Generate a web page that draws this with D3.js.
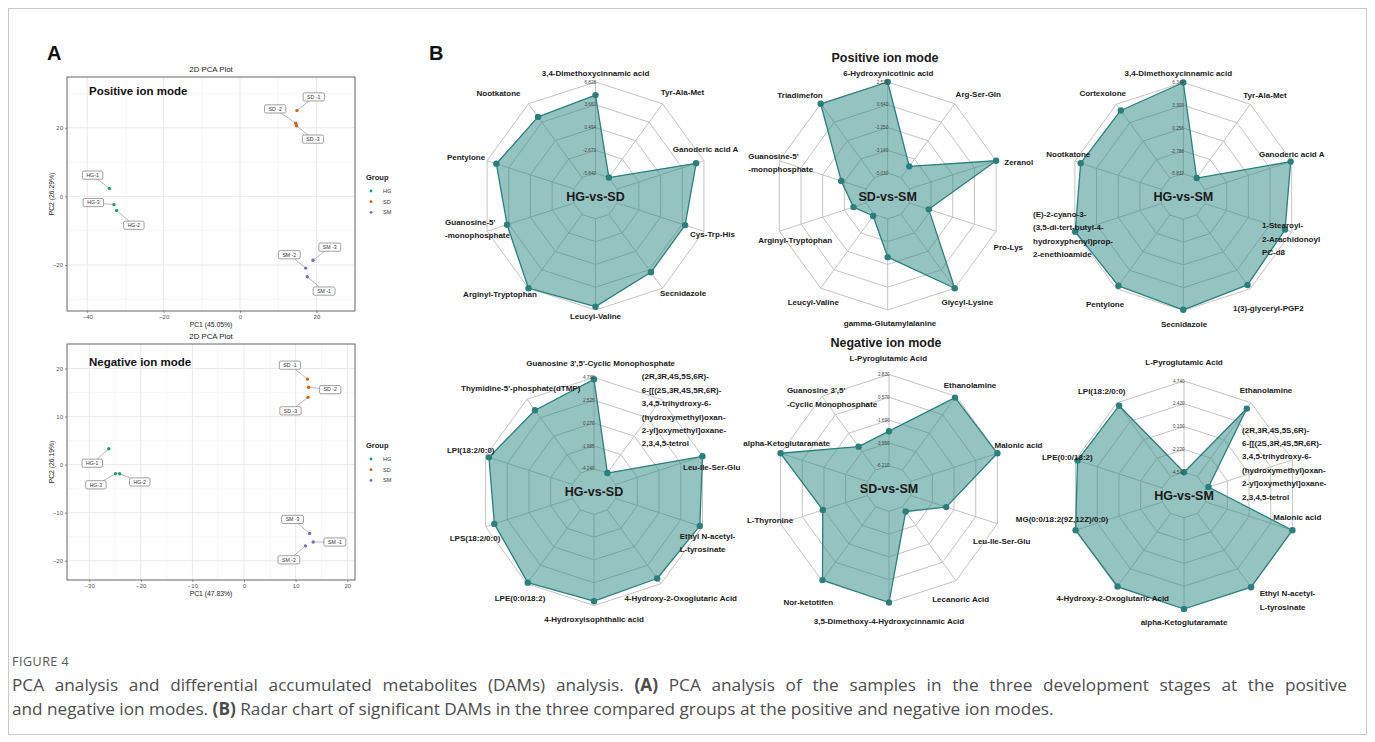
<!DOCTYPE html>
<html>
<head>
<meta charset="utf-8">
<script src="https://cdn.jsdelivr.net/npm/d3@7"></script>
<style>
  body { margin: 0; background: #fff; }
  svg { display: block; }
</style>
</head>
<body>
<svg id="fig" width="1375" height="742"></svg>
<script>
// ---------------- PCA scores ----------------
const sampleNames  = ["HG-1", "HG-2", "HG-3", "SD -1", "SD -2", "SD -3", "SM -1", "SM -2", "SM -3"];
const sampleGroups = ["HG", "HG", "HG", "SD", "SD", "SD", "SM", "SM", "SM"];
const groupNames   = ["HG", "SD", "SM"];
const groupColors  = ["#1b9e77", "#d95f02", "#7570b3"];

const posPC1 = [-34.2, -32.3, -33.0, 14.9, 14.6, 14.8, 17.6, 17.2, 19.1];
const posPC2 = [2.3, -4.1, -2.4, 25.0, 21.3, 20.6, -23.4, -20.9, -18.6];
const negPC1 = [-26.2, -24.1, -24.9, 12.3, 12.5, 12.4, 13.4, 11.9, 12.7];
const negPC2 = [3.3, -1.9, -1.9, 17.8, 16.1, 14.0, -16.1, -16.9, -14.3];

// repelled label anchors (data units)
const posLabelPC1 = [-38.6, -27.8, -38.4, 19.3, 9.2, 19.1, 22.0, 12.9, 23.5];
const posLabelPC2 = [6.2, -8.4, -1.8, 29.0, 25.5, 16.7, -27.6, -17.0, -14.8];
const negLabelPC1 = [-29.4, -20.2, -28.7, 8.9, 16.7, 9.0, 17.6, 8.7, 9.4];
const negLabelPC2 = [0.3, -3.6, -4.2, 20.7, 15.6, 11.2, -16.1, -19.8, -11.4];

// ---------------- Radar charts: metabolites, values, axis ticks ----------------
const posHGvsSDNames = ["3,4-Dimethoxycinnamic acid", "Tyr-Ala-Met", "Ganoderic acid A", "Cys-Trp-His", "Secnidazole",
  "Leucyl-Valine", "Arginyl-Tryptophan", "Guanosine-5'\n-monophosphate", "Pentylone", "Nootkatone"];
const posHGvsSDValues = [5.01, -5.84, 5.69, 4.08, 4.09, 6.36, 6.828, 3.91, 5.47, 4.57];
const posHGvsSDTicks = ["6.828", "3.661", "0.494", "-2.673", "-5.840"];

const posSDvsSMNames = ["6-Hydroxynicotinic acid", "Arg-Ser-Gln", "Zeranol", "Pro-Lys", "Glycyl-Lysine",
  "gamma-Glutamylalanine", "Leucyl-Valine", "Arginyl-Tryptophan", "Guanosine-5'\n-monophosphate", "Triadimefon"];
const posSDvsSMValues = [2.53, -3.88, 2.53, -3.34, 2.53, -1.85, -4.87, -3.94, -2.87, 2.53];
const posSDvsSMTicks = ["2.530", "0.640", "-1.250", "-3.140", "-5.030"];

const posHGvsSMNames = ["3,4-Dimethoxycinnamic acid", "Tyr-Ala-Met", "Ganoderic acid A",
  "1-Stearoyl-\n2-Arachidonoyl\nPC-d8", "1(3)-glyceryl-PGF2", "Secnidazole", "Pentylone",
  "(E)-2-cyano-3-\n(3,5-di-tert-butyl-4-\nhydroxyphenyl)prop-\n2-enethioamide", "Nootkatone", "Cortexolone"];
const posHGvsSMValues = [6.344, -5.832, 6.2, 5.41, 5.72, 6.25, 5.86, 6.3, 5.53, 5.32];
const posHGvsSMTicks = ["6.344", "3.300", "0.256", "-2.788", "-5.832"];

const negHGvsSDNames = ["Guanosine 3',5'-Cyclic Monophosphate",
  "(2R,3R,4S,5S,6R)-\n6-[[(2S,3R,4S,5R,6R)-\n3,4,5-trihydroxy-6-\n(hydroxymethyl)oxan-\n2-yl]oxymethyl]oxane-\n2,3,4,5-tetrol",
  "Leu-Ile-Ser-Glu", "Ethyl N-acetyl-\nL-tyrosinate", "4-Hydroxy-2-Oxoglutaric Acid", "4-Hydroxyisophthalic acid",
  "LPE(0:0/18:2)", "LPS(18:2/0:0)", "LPI(18:2/0:0)", "Thymidine-5'-phosphate(dTMP)"];
const negHGvsSDValues = [4.6, -4.24, 4.78, 4.51, 4.14, 4.35, 4.65, 3.87, 4.43, 3.44];
const negHGvsSDTicks = ["4.780", "2.525", "0.270", "-1.985", "-4.240"];

const negSDvsSMNames = ["L-Pyroglutamic Acid", "Ethanolamine", "Malonic acid", "Leu-Ile-Ser-Glu", "Lecanoric Acid",
  "3,5-Dimethoxy-4-Hydroxycinnamic Acid", "Nor-ketotifen", "L-Thyronine", "alpha-Ketoglutaramate",
  "Guanosine 3',5'\n-Cyclic Monophosphate"];
const negSDvsSMValues = [-2.79, 2.67, 2.83, -2.51, -5.65, 2.83, 2.75, -1.57, 2.83, -3.34];
const negSDvsSMTicks = ["2.830", "0.570", "-1.690", "-3.950", "-6.210"];

const negHGvsSMNames = ["L-Pyroglutamic Acid", "Ethanolamine",
  "(2R,3R,4S,5S,6R)-\n6-[[(2S,3R,4S,5R,6R)-\n3,4,5-trihydroxy-6-\n(hydroxymethyl)oxan-\n2-yl]oxymethyl]oxane-\n2,3,4,5-tetrol",
  "Malonic acid", "Ethyl N-acetyl-\nL-tyrosinate", "alpha-Ketoglutaramate", "4-Hydroxy-2-Oxoglutaric Acid",
  "MG(0:0/18:2(9Z,12Z)/0:0)", "LPE(0:0/18:2)", "LPI(18:2/0:0)"];
const negHGvsSMValues = [-4.54, 4.01, -4.24, 4.74, 4.74, 4.74, 4.65, 4.74, 4.53, 4.37];
const negHGvsSMTicks = ["4.740", "2.420", "0.100", "-2.220", "-4.540"];

// ---------------- layout ----------------
const FONT = "'Liberation Sans', Arial, Helvetica, sans-serif";
const svg = d3.select("#fig");
svg.append("rect").attr("width", 1375).attr("height", 742).attr("fill", "#fff");
svg.append("rect").attr("x", 8.5).attr("y", 8.5).attr("width", 1358).attr("height", 726)
  .attr("fill", "none").attr("stroke", "#c9c9c9").attr("stroke-width", 1);

svg.append("text").attr("x", 47).attr("y", 60).text("A")
  .attr("font-family", FONT).attr("font-weight", "bold").attr("font-size", 20).attr("fill", "#111");
svg.append("text").attr("x", 429).attr("y", 60).text("B")
  .attr("font-family", FONT).attr("font-weight", "bold").attr("font-size", 20).attr("fill", "#111");

// ---------------- PCA panel ----------------
function drawPCA(cfg) {
  const g = svg.append("g");
  const x = d3.scaleLinear().domain(cfg.xDomain).range([cfg.left, cfg.right]);
  const y = d3.scaleLinear().domain(cfg.yDomain).range([cfg.bottom, cfg.top]);
  const W = cfg.right - cfg.left, H = cfg.bottom - cfg.top;

  // minor grid
  cfg.xMinor.forEach(v => g.append("line").attr("x1", x(v)).attr("x2", x(v)).attr("y1", cfg.top).attr("y2", cfg.bottom)
    .attr("stroke", "#f3f3f3").attr("stroke-width", 0.6));
  cfg.yMinor.forEach(v => g.append("line").attr("y1", y(v)).attr("y2", y(v)).attr("x1", cfg.left).attr("x2", cfg.right)
    .attr("stroke", "#f3f3f3").attr("stroke-width", 0.6));
  // major grid
  cfg.xTicks.forEach(v => g.append("line").attr("x1", x(v)).attr("x2", x(v)).attr("y1", cfg.top).attr("y2", cfg.bottom)
    .attr("stroke", "#e8e8e8").attr("stroke-width", 0.9));
  cfg.yTicks.forEach(v => g.append("line").attr("y1", y(v)).attr("y2", y(v)).attr("x1", cfg.left).attr("x2", cfg.right)
    .attr("stroke", "#e8e8e8").attr("stroke-width", 0.9));

  // axes
  const xAxis = g.append("g").attr("transform", `translate(0,${cfg.bottom})`)
    .call(d3.axisBottom(x).tickValues(cfg.xTicks).tickSize(2).tickPadding(2));
  const yAxis = g.append("g").attr("transform", `translate(${cfg.left},0)`)
    .call(d3.axisLeft(y).tickValues(cfg.yTicks).tickSize(2).tickPadding(2));
  [xAxis, yAxis].forEach(a => {
    a.select(".domain").remove();
    a.selectAll("line").attr("stroke", "#555").attr("stroke-width", 0.6);
    a.selectAll("text").attr("font-family", FONT).attr("font-size", 6).attr("fill", "#555");
  });

  g.append("rect").attr("x", cfg.left).attr("y", cfg.top).attr("width", W).attr("height", H)
    .attr("fill", "none").attr("stroke", "#555").attr("stroke-width", 0.9);

  // titles
  g.append("text").attr("x", (cfg.left + cfg.right) / 2).attr("y", cfg.top - 5).attr("text-anchor", "middle")
    .attr("font-family", FONT).attr("font-size", 7.8).attr("fill", "#222").text("2D PCA Plot");
  g.append("text").attr("x", (cfg.left + cfg.right) / 2).attr("y", cfg.bottom + 16).attr("text-anchor", "middle")
    .attr("font-family", FONT).attr("font-size", 6.8).attr("fill", "#222").text(cfg.xTitle);
  g.append("text").attr("transform", `translate(${cfg.left - 13},${(cfg.top + cfg.bottom) / 2}) rotate(-90)`)
    .attr("text-anchor", "middle").attr("font-family", FONT).attr("font-size", 6.8).attr("fill", "#222").text(cfg.yTitle);
  g.append("text").attr("x", cfg.left + 22).attr("y", cfg.top + cfg.modeDy).attr("font-family", FONT)
    .attr("font-weight", "bold").attr("font-size", 11.5).attr("fill", "#111").text(cfg.mode);

  // label boxes with leader segments
  const color = d3.scaleOrdinal().domain(groupNames).range(groupColors);
  const lab = g.append("g");
  sampleNames.forEach((name, i) => {
    const px = x(cfg.pc1[i]), py = y(cfg.pc2[i]);
    const lx = x(cfg.labX[i]), ly = y(cfg.labY[i]);
    const item = lab.append("g");
    const seg = item.append("line");
    const box = item.append("rect");
    const t = item.append("text").attr("x", lx).attr("y", ly + 1.8).attr("text-anchor", "middle")
      .attr("font-family", FONT).attr("font-size", 5.2).attr("fill", "#333").text(name);
    const tw = t.node().getComputedTextLength();
    const bw = tw + 8, bh = 8.2;
    // segment from the point to the box edge
    const dx = px - lx, dy = py - ly;
    const s = Math.min(Math.abs((bw / 2) / (dx || 1e-9)), Math.abs((bh / 2) / (dy || 1e-9)));
    if (s < 1) {
      seg.attr("x1", px).attr("y1", py).attr("x2", lx + dx * s).attr("y2", ly + dy * s)
        .attr("stroke", "#888").attr("stroke-width", 0.6);
    } else {
      seg.remove();
    }
    box.attr("x", lx - bw / 2).attr("y", ly - bh / 2).attr("width", bw).attr("height", bh)
      .attr("rx", 1.5).attr("fill", "#fff").attr("stroke", "#777").attr("stroke-width", 0.7);
  });
  sampleNames.forEach((name, i) => {
    g.append("circle").attr("cx", x(cfg.pc1[i])).attr("cy", y(cfg.pc2[i])).attr("r", 1.7)
      .attr("fill", color(sampleGroups[i]));
  });

  // legend
  const lg = g.append("g").attr("transform", `translate(${cfg.right + 11},${cfg.legendY})`);
  lg.append("text").attr("x", 0).attr("y", 0).attr("font-family", FONT).attr("font-weight", "bold")
    .attr("font-size", 7.5).attr("fill", "#222").text("Group");
  groupNames.forEach((gname, k) => {
    lg.append("circle").attr("cx", 5).attr("cy", 11 + k * 10.7).attr("r", 1.4).attr("fill", groupColors[k]);
    lg.append("text").attr("x", 17).attr("y", 13 + k * 10.7).attr("font-family", FONT).attr("font-size", 5.6)
      .attr("fill", "#333").text(gname);
  });
}

drawPCA({
  left: 67, right: 355, top: 77, bottom: 311,
  xDomain: [-45.3, 30.1], yDomain: [-33.4, 34.8],
  xTicks: [-40, -20, 0, 20], yTicks: [-20, 0, 20],
  xMinor: [-30, -10, 10, 30], yMinor: [-30, -10, 10, 30],
  pc1: posPC1, pc2: posPC2, labX: posLabelPC1, labY: posLabelPC2,
  xTitle: "PC1 (45.05%)", yTitle: "PC2 (26.29%)", mode: "Positive ion mode", modeDy: 18,
  legendY: 180
});
drawPCA({
  left: 67, right: 355, top: 344, bottom: 580,
  xDomain: [-34.3, 21.5], yDomain: [-24.0, 25.1],
  xTicks: [-30, -20, -10, 0, 10, 20], yTicks: [-20, -10, 0, 10, 20],
  xMinor: [-25, -15, -5, 5, 15], yMinor: [-15, -5, 5, 15],
  pc1: negPC1, pc2: negPC2, labX: negLabelPC1, labY: negLabelPC2,
  xTitle: "PC1 (47.83%)", yTitle: "PC2 (26.19%)", mode: "Negative ion mode", modeDy: 22,
  legendY: 448
});

// ---------------- Radar panel ----------------
function drawRadar(cfg) {
  const g = svg.append("g").attr("transform", `translate(${cfg.cx},${cfg.cy})`);
  const n = cfg.names.length;
  const vmax = +cfg.ticks[0], vmin = +cfg.ticks[cfg.ticks.length - 1];
  const seg = cfg.ticks.length - 1;
  // inner hole of one segment below the minimum
  const r = d3.scaleLinear().domain([vmin - (vmax - vmin) / seg, vmax]).range([0, cfg.R]);
  const ang = d3.scaleLinear().domain([0, n]).range([0, 2 * Math.PI]);
  const pt = (i, rad) => [rad * Math.sin(ang(i)), -rad * Math.cos(ang(i))];

  const ringLevels = cfg.ticks.map(Number);
  ringLevels.forEach(lv => {
    g.append("polygon").attr("points", d3.range(n).map(i => pt(i, r(lv)).join(",")).join(" "))
      .attr("fill", "none").attr("stroke", "#c4c4c4").attr("stroke-width", 1);
  });
  d3.range(n).forEach(i => {
    const a = pt(i, r(vmin)), b = pt(i, r(vmax));
    g.append("line").attr("x1", a[0]).attr("y1", a[1]).attr("x2", b[0]).attr("y2", b[1])
      .attr("stroke", "#c4c4c4").attr("stroke-width", 1);
  });

  const poly = cfg.values.map((v, i) => pt(i, r(v)));
  g.append("polygon").attr("points", poly.map(p => p.join(",")).join(" "))
    .attr("fill", "#2b8882").attr("fill-opacity", 0.5)
    .attr("stroke", "#2a807b").attr("stroke-width", 1.3).attr("stroke-linejoin", "round");
  poly.forEach(p => g.append("circle").attr("cx", p[0]).attr("cy", p[1]).attr("r", 3.2).attr("fill", "#2b7f7a"));

  // tick labels along the first axis
  cfg.ticks.forEach(t => {
    g.append("text").attr("x", 0.5).attr("y", -r(+t) + 1.6).attr("text-anchor", "end")
      .attr("font-family", FONT).attr("font-size", 4.6).attr("fill", "#444").text(t);
  });

  g.append("text").attr("x", 0).attr("y", 4.5).attr("text-anchor", "middle")
    .attr("font-family", FONT).attr("font-weight", "bold").attr("font-size", 12.5).attr("fill", "#1a1a1a")
    .text(cfg.title);

  // axis labels (multi-line labels are left-aligned blocks)
  const lineH = 13.4;
  cfg.names.forEach((name, i) => {
    const lines = name.split("\n");
    const [dx, dy] = cfg.labelOffsets[i];
    const t = g.append("text").attr("font-family", FONT).attr("font-weight", "bold")
      .attr("font-size", 8).attr("fill", "#1a1a1a");
    const y0 = dy - (lines.length - 1) * lineH / 2 + 2.8;
    const spans = lines.map((ln, k) => t.append("tspan").attr("y", y0 + k * lineH).text(ln));
    if (lines.length === 1) {
      t.attr("text-anchor", "middle");
      spans[0].attr("x", dx);
    } else {
      const wmax = d3.max(spans, s => s.node().getComputedTextLength());
      spans.forEach(s => s.attr("x", dx - wmax / 2));
    }
  });
}

const R = 114;
drawRadar({ cx: 595.5, cy: 196, R, title: "HG-vs-SD",
  names: posHGvsSDNames, values: posHGvsSDValues, ticks: posHGvsSDTicks,
  labelOffsets: [[0, -123], [87, -104], [110, -46.5], [117, 38], [87.5, 97], [0, 120], [-95.5, 98.5],
    [-118, 32.7], [-129.5, -39], [-97, -103]] });
drawRadar({ cx: 887.7, cy: 196, R, title: "SD-vs-SM",
  names: posSDvsSMNames, values: posSDvsSMValues, ticks: posSDvsSMTicks,
  labelOffsets: [[0.6, -123.3], [90.6, -102], [131, -33.7], [120.6, 51.3], [79.6, 106.3], [2.3, 126.7],
    [-74.4, 106.3], [-92.5, 44], [-107, -33.5], [-87.7, -101]] });
drawRadar({ cx: 1183.3, cy: 196.5, R, title: "HG-vs-SM",
  names: posHGvsSMNames, values: posHGvsSMValues, ticks: posHGvsSMTicks,
  labelOffsets: [[-5, -123.5], [81.7, -101], [108.4, -42.7], [107.7, 42.3], [85, 111.3], [0.7, 128],
    [-78.3, 108], [-110.3, 37.8], [-115, -42], [-80.6, -103]] });
drawRadar({ cx: 594, cy: 491.5, R, title: "HG-vs-SD",
  names: negHGvsSDNames, values: negHGvsSDValues, ticks: negHGvsSDTicks,
  labelOffsets: [[6.7, -128.2], [90, -81.5], [117.7, -24.2], [113.5, 51], [86.7, 106.8], [0, 127.5],
    [-74, 106.8], [-119, 46.8], [-123.3, -41.5], [-73.3, -103.2]] });
drawRadar({ cx: 889, cy: 488.5, R, title: "SD-vs-SM",
  names: negSDvsSMNames, values: negSDvsSMValues, ticks: negSDvsSMTicks,
  labelOffsets: [[-0.7, -130.2], [81, -103.5], [129.5, -43.5], [112.7, 52.2], [71.7, 110.8], [0, 132.5],
    [-80.7, 113.2], [-119, 31.5], [-102.3, -45.2], [-57, -91.5]] });
drawRadar({ cx: 1184, cy: 495, R, title: "HG-vs-SM",
  names: negHGvsSMNames, values: negHGvsSMValues, ticks: negHGvsSMTicks,
  labelOffsets: [[0, -133], [82, -105], [100.3, -31.7], [113.3, 21.7], [103.5, 105], [0, 127],
    [-71.3, 103.3], [-122, 24], [-116.7, -38.3], [-82.3, -104]] });

svg.append("text").attr("x", 885).attr("y", 62).attr("text-anchor", "middle").attr("font-family", FONT)
  .attr("font-weight", "bold").attr("font-size", 12.5).attr("fill", "#1a1a1a").text("Positive ion mode");
svg.append("text").attr("x", 886).attr("y", 347).attr("text-anchor", "middle").attr("font-family", FONT)
  .attr("font-weight", "bold").attr("font-size", 12.5).attr("fill", "#1a1a1a").text("Negative ion mode");

// ---------------- caption (first line justified to the full text width) ----------------
const CAP = "'Open Sans', 'Noto Sans', sans-serif";
const capLeft = 12, capRight = 1347;
svg.append("text").attr("x", capLeft).attr("y", 666).attr("font-family", CAP).attr("font-size", 12.5)
  .attr("letter-spacing", 0.5).attr("fill", "#555").text("FIGURE 4");
const capLines = [
  [["PCA analysis and differential accumulated metabolites (DAMs) analysis. ", false], ["(A)", true],
   [" PCA analysis of the samples in the three development stages at the positive", false]],
  [["and negative ion modes. ", false], ["(B)", true],
   [" Radar chart of significant DAMs in the three compared groups at the positive and negative ion modes.", false]]
];
capLines.forEach((parts, k) => {
  const t = svg.append("text").attr("x", capLeft).attr("y", 691 + k * 23.5).attr("font-family", CAP)
    .attr("font-size", 17.2).attr("fill", "#4d4d4d");
  parts.forEach(([s, b]) => t.append("tspan").attr("font-weight", b ? "bold" : "normal").text(s));
  if (k === 0) {
    const natural = t.node().getComputedTextLength();
    const spaces = parts.map(p => p[0]).join("").split(" ").length - 1;
    t.attr("word-spacing", Math.max(0, (capRight - capLeft - natural) / spaces));
  }
});
</script>
</body>
</html>
